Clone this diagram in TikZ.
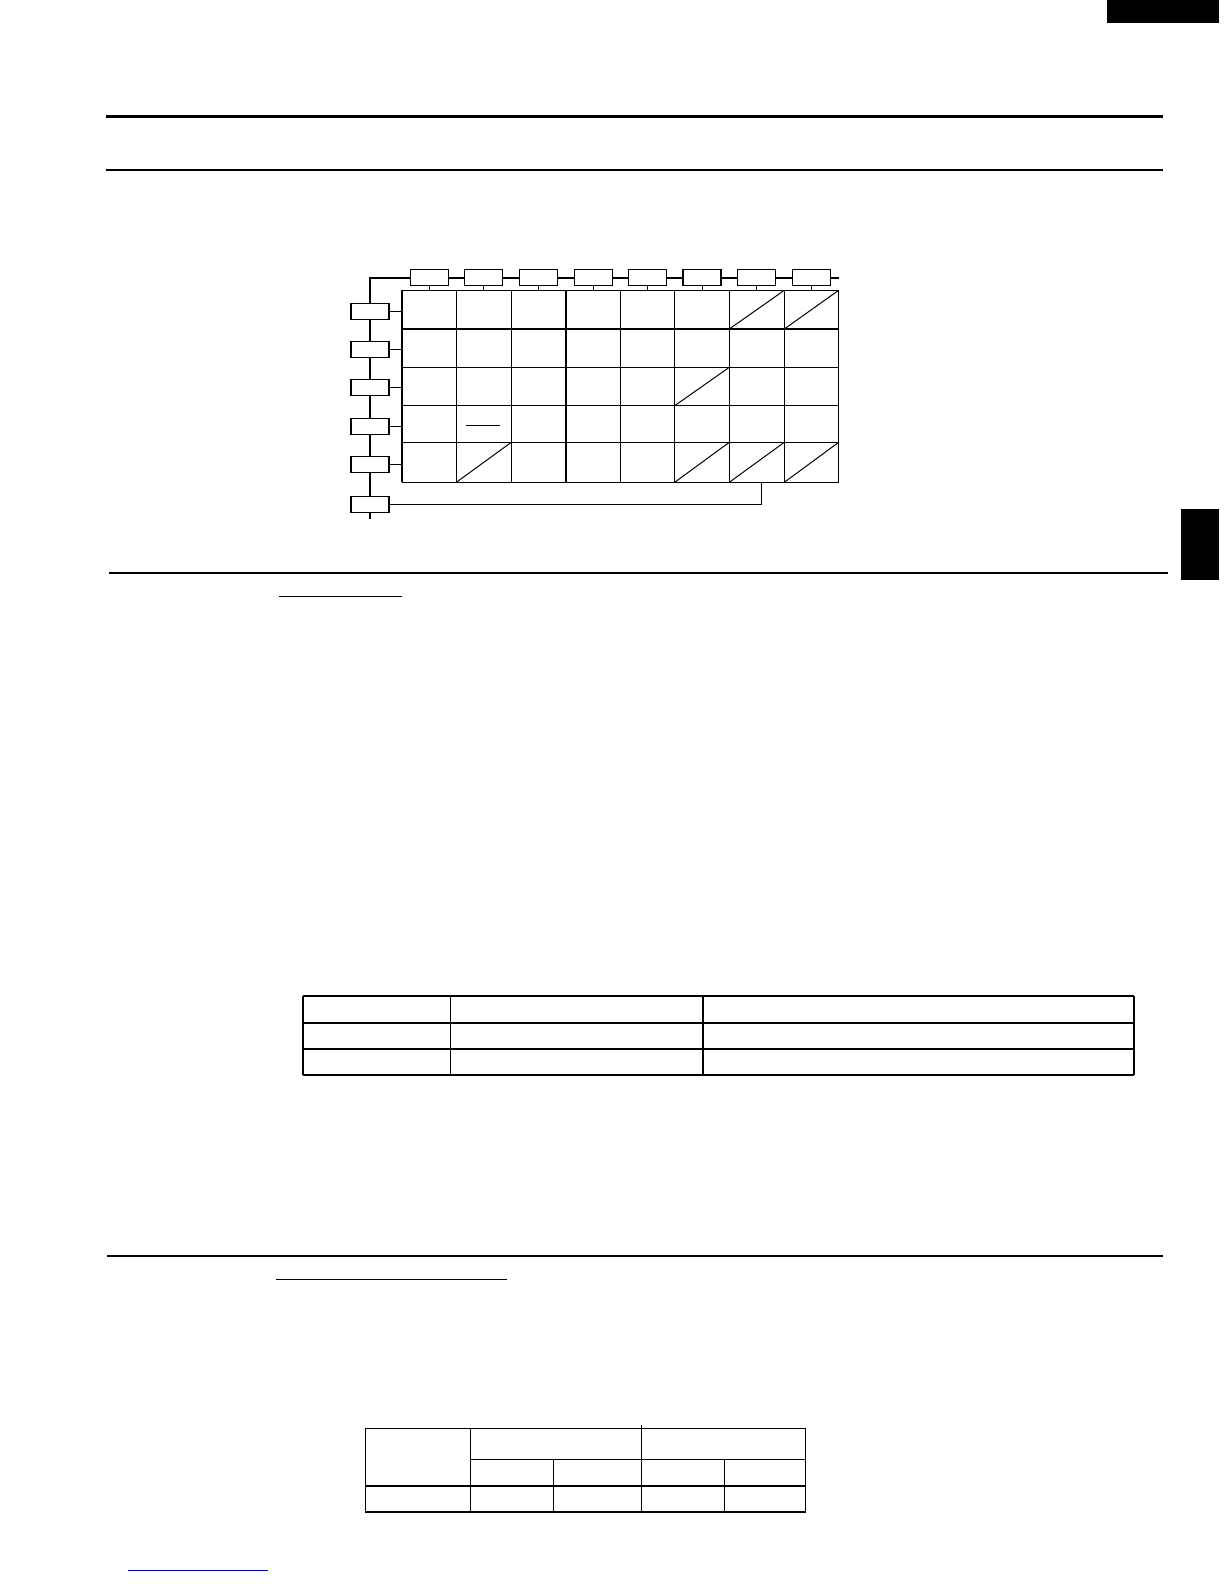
\documentclass[tikz,border=0pt]{standalone}
\usetikzlibrary{positioning}
\tikzset{box/.style = {draw, fill = white, line width = 1.1pt, minimum width = 38pt, minimum height = 16pt, inner sep = 0}}
\tikzset{rule/.style = {line width = 2.4pt}}
\tikzset{bus/.style = {line width = 2.4pt}}
\tikzset{cell/.style = {line width = 1.2pt}}

\begin{document}
\begin{tikzpicture}[x = 1pt, y = -1pt]
  \useasboundingbox (0, 0) rectangle (1224, 1584);
  % tabs
  \fill (1107, 0) rectangle (1219, 23);
  \fill (1181, 509) rectangle (1219, 580);
  % rules
  \draw [rule] (106, 116.7) -- (1163, 116.7);
  \draw [rule] (106, 170) -- (1163, 170);
  \draw [rule] (109, 572.7) -- (1168, 572.7);
  \draw [rule] (107, 1255.7) -- (1163, 1255.7);
  \draw [line width = 1pt] (279, 596) -- (402, 596);
  \draw [line width = 1pt] (276, 1279) -- (507, 1279);
  \draw [line width = 0.8pt, blue!70!black] (128, 1570) -- (268, 1570);
  % grid
  \foreach \x [count = \i from 0] in {402, 456.3, 511.3, 566, 620.3, 674.7, 729.3, 784.3, 838.7} {
    \coordinate (c\i) at (\x, 0);
  }
  \foreach \y [count = \j from 0] in {290.3, 329, 367.3, 405.7, 442.3, 482.3} {
    \coordinate (r\j) at (0, \y);
  }
  \foreach \i in {0, ..., 8} {
    \draw [cell] (c\i |- r0) -- (c\i |- r5);
  }
  \foreach \j in {0, ..., 5} {
    \draw [cell] (c0 |- r\j) -- (c8 |- r\j);
  }
  \foreach \a/\p/\b/\q in {6/1/7/0, 7/1/8/0, 5/3/6/2, 1/5/2/4, 5/5/6/4, 6/5/7/4, 7/5/8/4} {
    \draw [line width = 1pt] (c\a |- r\p) -- (c\b |- r\q);
  }
  \draw [line width = 1pt] (466, 425.3) -- (500, 425.3);
  % bus and boxes
  \draw [bus] (370, 519) -- (370, 277.7) -- (839, 277.7);
  \foreach \x [count = \i] in {429.2, 483.8, 538.7, 593.2, 647.5, 702, 756.8, 811.5} {
    \node [box] (t\i) at (\x, 277.3) {};
    \draw [line width = 1pt] (t\i.south) -- (t\i.south |- r0);
  }
  \foreach \y [count = \i] in {311.3, 349.3, 387.3, 426.3, 464.7, 504.3} {
    \node [box] (l\i) at (370, \y) {};
  }
  \foreach \i in {1, ..., 5} {
    \draw [line width = 1pt] (l\i.east) -- (l\i.east -| c0);
  }
  \coordinate (tap) at (761.7, 482.3);
  \draw [line width = 1pt] (l6.east) -| (tap);
  % first table
  \foreach \y in {996, 1023, 1049, 1075} {
    \draw [cell] (303, \y) -- (1134, \y);
  }
  \foreach \x in {303, 450.5, 703, 1134} {
    \draw [cell] (\x, 996) -- (\x, 1075);
  }
  % second table
  \draw [cell] (365.3, 1428.3) rectangle (805.3, 1512);
  \draw [cell] (470.3, 1459.3) -- (805.3, 1459.3);
  \draw [cell] (365.3, 1486) -- (805.3, 1486);
  \draw [cell] (470.3, 1428.3) -- (470.3, 1512);
  \draw [cell] (641.3, 1425) -- (641.3, 1512);
  \foreach \x in {553.3, 724.3} {
    \draw [cell] (\x, 1459.3) -- (\x, 1512);
  }
\end{tikzpicture}
\end{document}
